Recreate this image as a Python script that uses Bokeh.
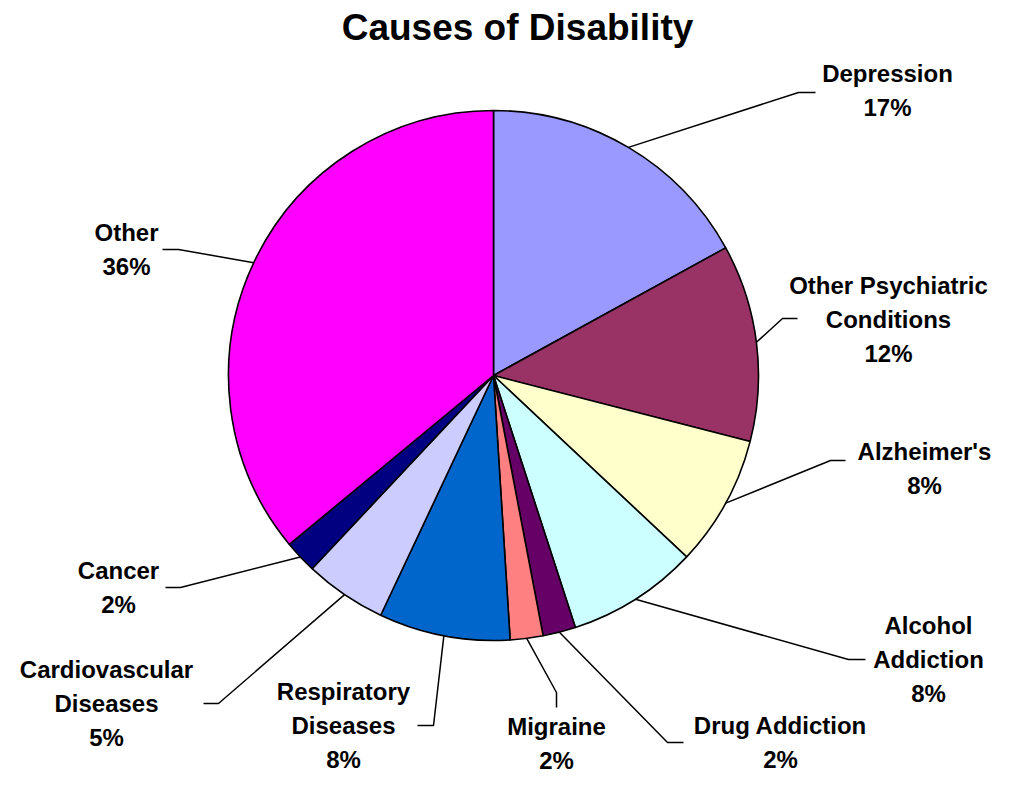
import math
from bokeh.plotting import figure
from bokeh.models import Range1d, ColumnDataSource
from bokeh.core.properties import value
from bokeh.embed import file_html
from bokeh.resources import INLINE

# ---- data ----
title_text = "Causes of Disability"
categories = ["Depression", "Other Psychiatric\nConditions", "Alzheimer's",
              "Alcohol\nAddiction", "Drug Addiction", "Migraine",
              "Respiratory\nDiseases", "Cardiovascular\nDiseases", "Cancer", "Other"]
shares = [17, 12, 8, 8, 2, 2, 8, 5, 2, 36]
colors = ["#9999FF", "#993366", "#FFFFCC", "#CCFFFF", "#660066",
          "#FF8080", "#0066CC", "#CCCCFF", "#000080", "#FF00FF"]

# ---- layout (pixels relative to pie centre, y up) ----
R = 265
elbows = [(305, 283), (289, 57), (337, -85), (355, -284), (174, -367),
          (63, -317), (-60, -350), (-275, -328), (-313, -212), (-315, 126)]
ends = [(322, 283), (304, 57), (352, -85), (372, -284), (190, -367),
        (63, -332), (-76, -350), (-290, -328), (-328, -212), (-331, 126)]
label_centers = [(394, 285.5), (395, 56), (431, -92.5), (435, -284), (287, -367),
                 (63, -367.5), (-150, -350), (-387, -328), (-375, -212), (-367, 126)]
line_h = 34
font = "Liberation Sans"

p = figure(width=1003, height=778, output_backend="svg", toolbar_location=None,
           x_range=Range1d(-493, 510), y_range=Range1d(-403, 375),
           min_border=0, outline_line_color=None, background_fill_color="white",
           border_fill_color="white")
p.axis.visible = False
p.grid.visible = False

total = float(sum(shares))
starts, stops, mids = [], [], []
cum = 0.0
for s in shares:
    a0 = math.pi / 2 - 2 * math.pi * cum / total
    cum += s
    a1 = math.pi / 2 - 2 * math.pi * cum / total
    starts.append(a0)
    stops.append(a1)
    mids.append((a0 + a1) / 2)

src = ColumnDataSource(dict(start=starts, end=stops, color=colors))
p.wedge(x=0, y=0, radius=R, start_angle="start", end_angle="end", direction="clock",
        fill_color="color", line_color="black", line_width=1.6, source=src)

# leader lines
xs, ys = [], []
for m, (ex, ey), (tx, ty) in zip(mids, elbows, ends):
    xs.append([R * math.cos(m), ex, tx])
    ys.append([R * math.sin(m), ey, ty])
p.multi_line(xs=xs, ys=ys, line_color="black", line_width=1.5)

# labels
lx, ly, lt = [], [], []
for cat, s, (cx, cy) in zip(categories, shares, label_centers):
    lines = cat.split("\n") + ["%d%%" % round(100 * s / total)]
    n = len(lines)
    for i, t in enumerate(lines):
        lx.append(cx)
        ly.append(cy + (n - 1) / 2 * line_h - i * line_h)
        lt.append(t)
p.text(x=lx, y=ly, text=lt, text_font=value(font), text_font_style="bold",
       text_font_size="24px", text_align="center", text_baseline="middle",
       text_color="black")

p.text(x=[24], y=[348], text=[title_text], text_font=value(font), text_font_style="bold",
       text_font_size="37px", text_align="center", text_baseline="middle",
       text_color="black")

open("out.html", "w").write(file_html(p, INLINE))
